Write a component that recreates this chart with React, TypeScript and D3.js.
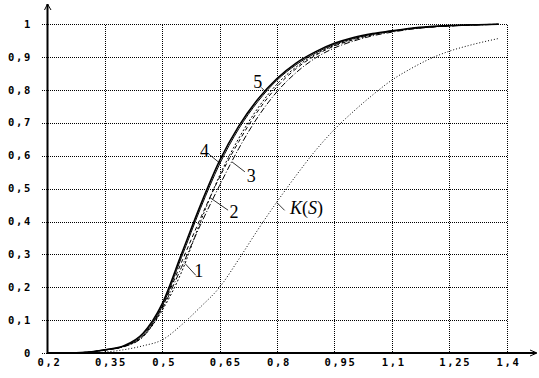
import * as d3 from "d3";

// S grid shared by every curve
const sValues = [0.2, 0.25, 0.3, 0.35, 0.4, 0.45, 0.5, 0.55, 0.6, 0.65, 0.7, 0.75, 0.8, 0.85, 0.9, 0.95, 1.0, 1.05, 1.1, 1.15, 1.2, 1.25, 1.3, 1.38];

const curve5 = [0, 0, 0.002, 0.01, 0.022, 0.06, 0.15, 0.3, 0.45, 0.585, 0.69, 0.772, 0.835, 0.882, 0.916, 0.942, 0.96, 0.972, 0.98, 0.988, 0.993, 0.996, 0.998, 1.0];
const curve4 = [0, 0, 0.002, 0.01, 0.021, 0.056, 0.143, 0.29, 0.44, 0.575, 0.682, 0.765, 0.83, 0.877, 0.912, 0.939, 0.957, 0.97, 0.979, 0.987, 0.992, 0.996, 0.998, 1.0];
const curve3 = [0, 0, 0.002, 0.009, 0.019, 0.05, 0.135, 0.26, 0.39, 0.51, 0.622, 0.718, 0.795, 0.853, 0.897, 0.928, 0.949, 0.965, 0.976, 0.985, 0.991, 0.995, 0.997, 1.0];
const curve2 = [0, 0, 0.002, 0.009, 0.02, 0.052, 0.14, 0.275, 0.41, 0.535, 0.643, 0.736, 0.81, 0.865, 0.905, 0.934, 0.953, 0.968, 0.978, 0.986, 0.992, 0.995, 0.998, 1.0];
const curve1 = [0, 0, 0.002, 0.009, 0.02, 0.05, 0.13, 0.245, 0.4, 0.54, 0.653, 0.745, 0.818, 0.87, 0.908, 0.936, 0.955, 0.969, 0.978, 0.987, 0.992, 0.995, 0.998, 1.0];
const curveK = [0, 0, 0.001, 0.003, 0.01, 0.022, 0.04, 0.085, 0.14, 0.2, 0.285, 0.375, 0.46, 0.54, 0.615, 0.68, 0.735, 0.785, 0.83, 0.865, 0.895, 0.918, 0.935, 0.957];

const xTicks = [0.2, 0.35, 0.5, 0.65, 0.8, 0.95, 1.1, 1.25, 1.4];
const yTicks = [0, 0.1, 0.2, 0.3, 0.4, 0.5, 0.6, 0.7, 0.8, 0.9, 1];

// curve number, curve, S where the leader touches it, text offset, leader end offset
const labels = [
  { text: "5", values: curve5, s: 0.769, tx: -7.5, ty: -3, lx: -4, ly: -4 },
  { text: "4", values: curve4, s: 0.651, tx: -15.5, ty: -6, lx: -11, ly: -9 },
  { text: "3", values: curve3, s: 0.682, tx: 19.5, ty: 20, lx: 13, ly: 10 },
  { text: "2", values: curve2, s: 0.625, tx: 24, ty: 20, lx: 18, ly: 12.5 },
  { text: "1", values: curve1, s: 0.559, tx: 14, ty: 14, lx: 11, ly: 12 },
];

const W = 539, H = 378;
const x = d3.scaleLinear().domain([0.2, 1.4]).range([47.5, 506.5]);
const y = d3.scaleLinear().domain([0, 1]).range([353, 24.3]);
const px = (v: number) => Math.round(x(v)) + 0.5;
const py = (v: number) => Math.round(y(v)) + 0.5;

const line = d3.line<number>().x((_, i) => x(sValues[i])).y(d => y(d)).curve(d3.curveMonotoneX);

const at = (vals: number[], s: number) => {
  const i = Math.max(1, d3.bisectLeft(sValues, s));
  const t = (s - sValues[i - 1]) / (sValues[i] - sValues[i - 1]);
  return vals[i - 1] + t * (vals[i] - vals[i - 1]);
};

const fmt = (v: number) => (v === 0 || v === 1 ? String(v) : String(v).replace(".", ","));
const TICK_FONT = { fontFamily: "DejaVu Sans Mono", fontWeight: 700, fontSize: 10.5, letterSpacing: 1.7 };

export default function App() {
  const series = [
    { v: curveK, w: 1, dash: "1 2" },
    { v: curve1, w: 1, dash: "2 2" },
    { v: curve2, w: 1, dash: "4 3" },
    { v: curve3, w: 1, dash: "6 2 1 2" },
    { v: curve4, w: 1, dash: undefined },
    { v: curve5, w: 1.6, dash: undefined },
  ];
  const kS = 0.799, kx = x(kS), ky = y(at(curveK, kS));
  return (
    <svg width={W} height={H} style={{ position: "absolute", left: 0, top: 0, background: "#fff" }}>
      {/* grid */}
      {yTicks.map(t => <line key={"h" + t} x1={42} x2={px(1.4)} y1={py(t)} y2={py(t)} stroke="#000" strokeDasharray="1 1" shapeRendering="crispEdges" />)}
      {xTicks.slice(1).map(t => <line key={"v" + t} x1={px(t)} x2={px(t)} y1={py(1)} y2={353} stroke="#000" strokeDasharray="1 1" shapeRendering="crispEdges" />)}

      {/* axes */}
      <line x1={47.5} x2={47.5} y1={4} y2={354} stroke="#000" strokeWidth={2} />
      <line x1={47} x2={536} y1={353} y2={353} stroke="#000" strokeWidth={2} />
      <path d="M44.5,10 L47.5,4 L51,10" fill="none" stroke="#000" />
      <path d="M530,350 L537,353 L530,356" fill="none" stroke="#000" />

      {yTicks.map(t => <text key={"yl" + t} x={32} y={y(t) + 3.5} textAnchor="end" {...TICK_FONT}>{fmt(t)}</text>)}
      {xTicks.map(t => <text key={"xl" + t} x={x(t) - 10} y={366} {...TICK_FONT}>{fmt(t)}</text>)}

      {/* curves */}
      {series.map((c, i) => <path key={i} d={line(c.v) ?? ""} fill="none" stroke="#000" strokeWidth={c.w} strokeDasharray={c.dash} />)}

      {/* curve numbers */}
      {labels.map(l => {
        const cx = x(l.s), cy = y(at(l.values, l.s));
        return (
          <g key={l.text}>
            <line x1={cx} y1={cy} x2={cx + l.lx} y2={cy + l.ly} stroke="#000" strokeWidth={0.8} />
            <text x={cx + l.tx} y={cy + l.ty} textAnchor="middle" fontFamily="Liberation Serif" fontSize={18}>{l.text}</text>
          </g>
        );
      })}
      <line x1={kx} y1={ky} x2={kx + 8} y2={ky + 8} stroke="#000" strokeWidth={0.8} />
      <text x={290} y={ky + 12} fontFamily="Liberation Serif" fontSize={18}>
        <tspan fontStyle="italic">K</tspan>(<tspan fontStyle="italic">S</tspan>)
      </text>
    </svg>
  );
}
